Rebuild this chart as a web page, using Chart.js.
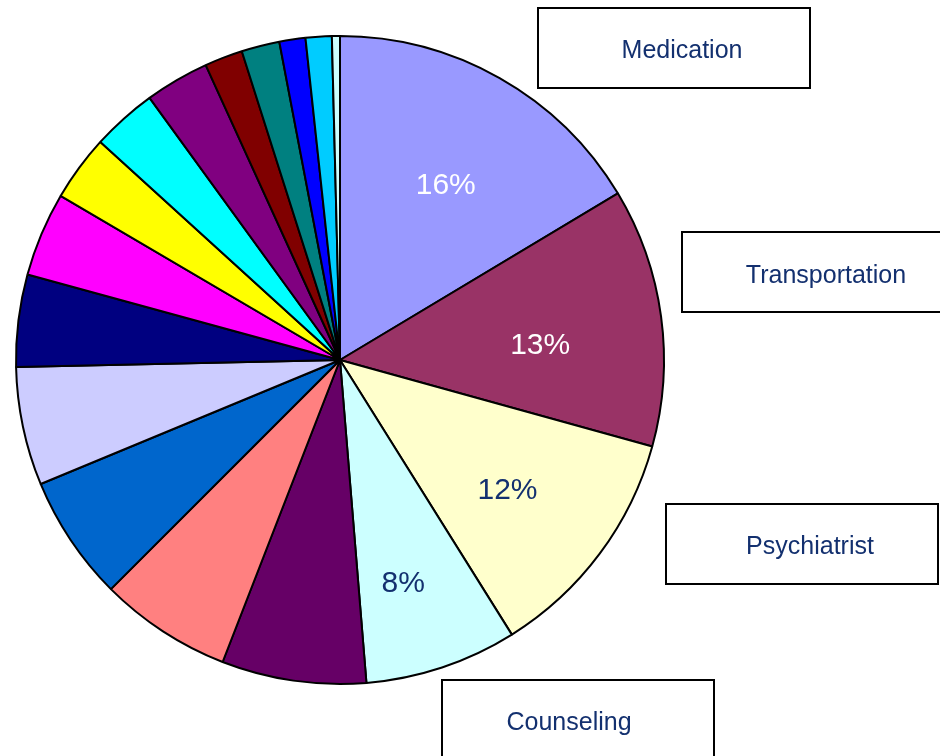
<!DOCTYPE html>
<html>
<head>
<meta charset="utf-8">
<script src="https://cdn.jsdelivr.net/npm/chart.js@4/dist/chart.umd.min.js"></script>
<style>
  html, body { margin: 0; padding: 0; background: #ffffff; }
  #wrap { position: relative; width: 940px; height: 756px; }
</style>
</head>
<body>
<div id="wrap"><canvas id="c" width="940" height="756"></canvas></div>
<script>
// ---- data ----
const categories = [
  "Medication", "Transportation", "Psychiatrist", "Counseling",
  "Category 5", "Category 6", "Category 7", "Category 8", "Category 9",
  "Category 10", "Category 11", "Category 12", "Category 13", "Category 14",
  "Category 15", "Category 16", "Category 17", "Category 18"
];
const values = [16.4, 12.9, 11.8, 7.6, 7.2, 6.6, 6.25, 5.9, 4.6, 4.2, 3.3, 3.25, 3.2, 1.9, 1.9, 1.3, 1.3, 0.4];
const sliceColors = [
  "#9999FF", "#993366", "#FFFFCC", "#CCFFFF", "#660066", "#FF8080",
  "#0066CC", "#CCCCFF", "#000080", "#FF00FF", "#FFFF00", "#00FFFF",
  "#800080", "#800000", "#008080", "#0000FF", "#00CCFF", "#CCFFFF"
];
const labelledCategories = ["Medication", "Transportation", "Psychiatrist", "Counseling"];

// ---- styling / layout (not data) ----
const NAVY = "#13306F";
const pctLabelStyle = {
  "Medication":     { color: "#FFFFFF", r: 0.637, nudgeDeg: 1.3 },
  "Transportation": { color: "#FFFFFF", r: 0.62,  nudgeDeg: 2.9 },
  "Psychiatrist":   { color: NAVY,      r: 0.65,  nudgeDeg: 0.6 },
  "Counseling":     { color: NAVY,      r: 0.71,  nudgeDeg: 2.4 }
};
const calloutBoxes = [
  { text: "Medication",     x: 538, y: 8,   w: 272, h: 80, tx: 682, ty: 51 },
  { text: "Transportation", x: 682, y: 232, w: 262, h: 80, tx: 826, ty: 276 },
  { text: "Psychiatrist",   x: 666, y: 504, w: 272, h: 80, tx: 810, ty: 547 },
  { text: "Counseling",     x: 442, y: 680, w: 272, h: 90, tx: 569, ty: 723 }
];
const FONT = "'Liberation Sans', Arial, sans-serif";

const total = values.reduce((a, b) => a + b, 0);

const pctPlugin = {
  id: 'pctLabels',
  afterDatasetsDraw(chart) {
    const ctx = chart.ctx;
    const meta = chart.getDatasetMeta(0);
    ctx.save();
    ctx.font = "30px " + FONT;
    ctx.textAlign = "center";
    ctx.textBaseline = "middle";
    meta.data.forEach((arc, i) => {
      const name = categories[i];
      if (!labelledCategories.includes(name)) return;
      const st = pctLabelStyle[name];
      const p = arc.getProps(['x', 'y', 'startAngle', 'endAngle', 'outerRadius'], true);
      const mid = (p.startAngle + p.endAngle) / 2 + st.nudgeDeg * Math.PI / 180;
      const r = p.outerRadius * st.r;
      const pct = Math.round(values[i] / total * 100) + "%";
      ctx.fillStyle = st.color;
      ctx.fillText(pct, p.x + Math.cos(mid) * r, p.y + Math.sin(mid) * r + 3);
    });
    ctx.restore();
  }
};

const calloutPlugin = {
  id: 'callouts',
  afterDraw(chart) {
    const ctx = chart.ctx;
    ctx.save();
    calloutBoxes.forEach(b => {
      ctx.fillStyle = "#FFFFFF";
      ctx.fillRect(b.x, b.y, b.w, b.h);
      ctx.strokeStyle = "#000000";
      ctx.lineWidth = 2;
      ctx.strokeRect(b.x, b.y, b.w, b.h);
      ctx.fillStyle = NAVY;
      ctx.font = "25px " + FONT;
      ctx.textAlign = "center";
      ctx.textBaseline = "middle";
      ctx.fillText(b.text, b.tx, b.ty);
    });
    ctx.restore();
  }
};

new Chart(document.getElementById('c'), {
  type: 'pie',
  data: {
    labels: categories,
    datasets: [{
      data: values,
      backgroundColor: sliceColors,
      borderColor: "#000000",
      borderWidth: 2
    }]
  },
  options: {
    responsive: false,
    animation: false,
    layout: { padding: { left: 15, top: 35, right: 275, bottom: 71 } },
    plugins: {
      legend: { display: false },
      tooltip: { enabled: false },
      title: { display: false }
    }
  },
  plugins: [pctPlugin, calloutPlugin]
});
</script>
</body>
</html>
